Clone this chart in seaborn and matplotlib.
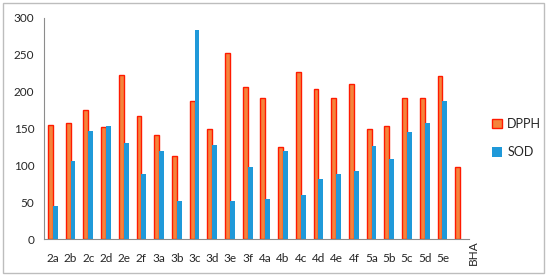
import pandas as pd
import matplotlib
matplotlib.use("Agg")
import matplotlib.pyplot as plt
import seaborn as sns
from matplotlib.patches import Patch, Rectangle
from matplotlib.transforms import blended_transform_factory

# values
compounds = ["2a", "2b", "2c", "2d", "2e", "2f", "3a", "3b", "3c", "3d", "3e", "3f",
             "4a", "4b", "4c", "4d", "4e", "4f", "5a", "5b", "5c", "5d", "5e", "BHA"]
dpph = [155, 158, 175, 152, 222, 167, 141, 113, 188, 149, 252, 207,
        192, 125, 227, 204, 192, 210, 150, 154, 192, 191, 221, 98]
sod = [45, 106, 147, 154, 130, 88, 120, 51, 284, 128, 52, 98,
       54, 120, 60, 82, 88, 92, 126, 109, 145, 157, 188, None]

df = pd.concat([
    pd.DataFrame({"compound": compounds, "assay": "DPPH", "value": dpph}),
    pd.DataFrame({"compound": compounds, "assay": "SOD", "value": sod}),
], ignore_index=True)

sns.set_style("white")
plt.rcParams["font.family"] = ["Lato", "DejaVu Sans"]

orange = "#F4843C"
red = "#FF1A00"
blue = "#1F99D9"

fig = plt.figure(figsize=(5.5, 2.76), dpi=100)
ax = fig.add_axes([44 / 550, 1 - 239 / 276, (469 - 44) / 550, (239 - 18) / 276])

sns.barplot(data=df, x="compound", y="value", hue="assay", order=compounds,
            palette={"DPPH": orange, "SOD": blue}, width=0.55, ax=ax,
            legend=False, saturation=1, errorbar=None)

# red outline on DPPH bars
for bar in ax.containers[0]:
    bar.set_edgecolor(red)
    bar.set_linewidth(1.0)
for bar in ax.containers[1]:
    bar.set_edgecolor("none")

ax.set_xlim(-0.5, len(compounds) - 0.5)
ax.set_ylim(0, 300)
ax.set_yticks(range(0, 301, 50))
ax.set_xlabel("")
ax.set_ylabel("")

for side in ["top", "right"]:
    ax.spines[side].set_visible(False)
for side in ["left", "bottom"]:
    ax.spines[side].set_color("#8C8C8C")
    ax.spines[side].set_linewidth(0.8)

ax.tick_params(axis="y", length=4, width=0.8, color="#8C8C8C", pad=3, labelsize=8.5)
ax.set_xticks(range(len(compounds)))
ax.set_xticklabels(compounds[:-1] + [""])
ax.tick_params(axis="x", which="major", length=0, pad=10, labelsize=8.5)
ax.set_xticks([i + 0.5 for i in range(-1, len(compounds))], minor=True)
ax.tick_params(axis="x", which="minor", length=4, width=0.8, color="#8C8C8C")

# BHA label is rotated in the original
trans = blended_transform_factory(ax.transData, ax.transAxes)
ax.text(len(compounds) - 0.25, -0.004, compounds[-1], rotation=90, transform=trans,
        ha="center", va="top", fontsize=8.5)

handles = [Patch(facecolor=orange, edgecolor=red, linewidth=1.0, label="DPPH"),
           Patch(facecolor=blue, edgecolor="none", label="SOD")]
fig.legend(handles=handles, loc="center left", bbox_to_anchor=(481 / 550, 1 - 138 / 276),
           frameon=False, fontsize=9, handlelength=0.8, handleheight=0.8,
           handletextpad=0.4, labelspacing=1.3)

fig.patches.append(Rectangle((3 / 550, 3 / 276), 541 / 550, 270 / 276, transform=fig.transFigure,
                             fill=False, edgecolor="#BDBDBD", linewidth=1.0))

fig.savefig("out.png", dpi=100)
